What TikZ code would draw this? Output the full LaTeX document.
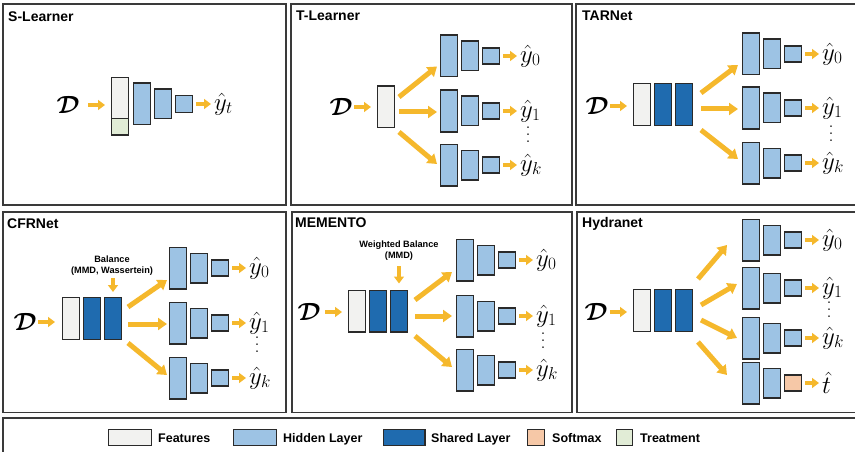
\documentclass[tikz,border=0pt]{standalone}
\usepackage{amsmath}
\usepackage{fontspec}
\setsansfont{Liberation Sans}
\usetikzlibrary{arrows.meta,calc}

\definecolor{featc}{HTML}{F2F2F0}
\definecolor{hidc}{HTML}{9DC3E4}
\definecolor{shrc}{HTML}{1F6BAF}
\definecolor{softc}{HTML}{F6C8A7}
\definecolor{treatc}{HTML}{E1ECD6}
\definecolor{arrc}{HTML}{F5B82C}
\definecolor{edgec}{HTML}{2A2A2A}
\definecolor{framec}{HTML}{3A3A3A}

\tikzset{
  panel/.style={draw=framec, line width=1.8pt},
  layer/.style={draw=edgec, line width=1.4pt, inner sep=0pt, minimum width=16.6pt},
  feat/.style={layer, fill=featc},
  hid/.style={layer, fill=hidc},
  shr/.style={layer, fill=shrc},
  soft/.style={layer, fill=softc},
  treat/.style={layer, fill=treatc},
  tall/.style={minimum height=41.6pt},
  mid/.style={minimum height=29.6pt},
  low/.style={minimum height=16pt},
  flow/.style={draw=arrc, line width=4pt, -{Triangle[length=7pt,width=10pt]}},
  fork/.style={draw=arrc, line width=5pt, -{Triangle[length=9pt,width=12pt]}},
  title/.style={font=\sffamily\bfseries\fontsize{14}{16}\selectfont, inner sep=0pt, anchor=base west},
  note/.style={font=\sffamily\bfseries\fontsize{9.2}{11}\selectfont, align=center, inner sep=0pt},
  sym/.style={font=\fontsize{25}{27}\selectfont, inner sep=0pt},
  est/.style={font=\fontsize{23}{25}\selectfont, inner sep=0pt},
  dots/.style={font=\fontsize{20}{7}\selectfont, align=center, inner sep=0pt},
  key/.style={font=\sffamily\bfseries\fontsize{12.5}{14}\selectfont, inner sep=0pt, anchor=base west},
  swatch/.style={layer, minimum height=15.6pt},
}

\newcommand\dataset{$\boldsymbol{\mathcal{D}}$}

% one output head: three stacked layers, an arrow and the estimate
% #1 prefix, #2 left x, #3 centre y, #4 estimate, #5 style of the last layer
\newcommand\headrow[5]{%
  \node[hid,tall,anchor=west] (#1a) at (#2,#3) {};
  \node[hid,mid,anchor=west] (#1b) at ([xshift=3pt]#1a.east) {};
  \node[#5,low,anchor=west] (#1c) at ([xshift=3pt]#1b.east) {};
  \node[est,anchor=west] (#1y) at ([xshift=20pt]#1c.east) {#4};
  \draw[flow] ([xshift=3pt]#1c.east) -- ($(#1y.west |- #1c.east)+(-3,0)$);
}

\begin{document}
\begin{tikzpicture}[x=1pt,y=-1pt]
\useasboundingbox (0,0) rectangle (855,452);
\clip (0,0) rectangle (855,452);

% frames
\draw[panel] (3,4) rectangle (286,205);
\draw[panel] (291,4) rectangle (572,205);
\draw[panel] (576,4) rectangle (862,205);
\draw[panel] (3,212) rectangle (286,412.5);
\draw[panel] (292,212) rectangle (572,412.5);
\draw[panel] (577,212) rectangle (862,412.5);
\draw[panel] (3,418) rectangle (862,466);

% ---------------- S-Learner
\node[title] (sTitle) at (8,22) {S-Learner};
\node[sym] (sD) at (68,105) {\dataset};
\node[feat,minimum height=40.6pt,anchor=north west] (sF) at (111,77) {};
\node[treat,minimum height=16.6pt,anchor=north] (sT) at ([yshift=1.4pt]sF.south) {};
\node[hid,tall,anchor=west] (sH1) at (133,104) {};
\node[hid,mid,anchor=west] (sH2) at ([xshift=3pt]sH1.east) {};
\node[hid,minimum height=16.6pt,anchor=west] (sH3) at ([xshift=3pt]sH2.east) {};
\node[est,anchor=west] (sY) at ([xshift=21pt]sH3.east) {$\hat{y}_t$};
\draw[flow] ([xshift=3pt]sH3.east) -- ($(sY.west |- sH3.east)+(-3,0)$);
\draw[flow] ($(sD.east -| sF.west)+(-23,0)$) -- ($(sD.east -| sF.west)+(-6,0)$);

% ---------------- T-Learner
\node[title] (tTitle) at (296,21) {T-Learner};
\node[sym] (tD) at (341,107) {\dataset};
\node[feat,tall,anchor=west] (tF) at (377,107) {};
\draw[flow] ($(tD.east -| tF.west)+(-23,0)$) -- ($(tD.east -| tF.west)+(-6,0)$);
\headrow{tA}{440}{56}{$\hat{y}_0$}{hid}
\headrow{tB}{440}{111}{$\hat{y}_1$}{hid}
\headrow{tC}{440}{165}{$\hat{y}_k$}{hid}
\node[dots] (tV) at (528,135) {.\\.\\.};
\draw[fork] ($(tF.east)+(4,-10)$) -- ($(tAa.west)+(-3,10.5)$);
\draw[fork] ($(tF.east)+(4,5)$) -- ($(tBa.west)+(-3,1)$);
\draw[fork] ($(tF.east)+(4,25)$) -- ($(tCa.west)+(-3,-1)$);

% ---------------- TARNet
\node[title] (rTitle) at (582,21) {TARNet};
\node[sym] (rD) at (597,106) {\dataset};
\node[feat,tall,anchor=west] (rF) at (633,104.5) {};
\node[shr,tall,anchor=west] (rS1) at ([xshift=3pt]rF.east) {};
\node[shr,tall,anchor=west] (rS2) at ([xshift=3pt]rS1.east) {};
\draw[flow] ($(rD.east -| rF.west)+(-23,0)$) -- ($(rD.east -| rF.west)+(-6,0)$);
\headrow{rA}{742}{54}{$\hat{y}_0$}{hid}
\headrow{rB}{742}{108}{$\hat{y}_1$}{hid}
\headrow{rC}{742}{163}{$\hat{y}_k$}{hid}
\node[dots] (rV) at (831,134) {.\\.\\.};
\draw[fork] ($(rS2.east)+(8,-11.5)$) -- ($(rAa.west)+(-4,11)$);
\draw[fork] ($(rS2.east)+(8,4.5)$) -- ($(rBa.west)+(-4,1)$);
\draw[fork] ($(rS2.east)+(8,25.5)$) -- ($(rCa.west)+(-4,-4)$);

% ---------------- CFRNet
\node[title] (cTitle) at (7,228) {CFRNet};
\node[sym] (cD) at (25,322) {\dataset};
\node[feat,tall,anchor=west] (cF) at (62,318.5) {};
\node[shr,tall,anchor=west] (cS1) at ([xshift=3pt]cF.east) {};
\node[shr,tall,anchor=west] (cS2) at ([xshift=3pt]cS1.east) {};
\draw[flow] ($(cD.east -| cF.west)+(-24,0)$) -- ($(cD.east -| cF.west)+(-7,0)$);
\node[note] (cBal) at (112,266) {Balance\\(MMD, Wassertein)};
\draw[flow] ($(cBal.south -| cS2.north)+(0,2)$) -- ($(cS2.north)+(0,-5)$);
\headrow{cA}{169}{268}{$\hat{y}_0$}{hid}
\headrow{cB}{169}{323}{$\hat{y}_1$}{hid}
\headrow{cC}{169}{378}{$\hat{y}_k$}{hid}
\node[dots] (cV) at (257,345) {.\\.\\.};
\draw[fork] ($(cS2.east)+(6,-11.5)$) -- ($(cAa.west)+(-2,12)$);
\draw[fork] ($(cS2.east)+(6,5.5)$) -- ($(cBa.west)+(-2,1)$);
\draw[fork] ($(cS2.east)+(6,24.5)$) -- ($(cCa.west)+(-2,-3)$);

% ---------------- MEMENTO
\node[title] (mTitle) at (295,227) {MEMENTO};
\node[sym] (mD) at (309,312) {\dataset};
\node[feat,tall,anchor=west] (mF) at (348,311) {};
\node[shr,tall,anchor=west] (mS1) at ([xshift=3pt]mF.east) {};
\node[shr,tall,anchor=west] (mS2) at ([xshift=3pt]mS1.east) {};
\draw[flow] ($(mD.east -| mF.west)+(-23,0)$) -- ($(mD.east -| mF.west)+(-6,0)$);
\node[note] (mBal) at (399,250.5) {Weighted Balance\\(MMD)};
\draw[flow] ($(mBal.south -| mS2.north)+(0,6)$) -- ($(mS2.north)+(0,-6)$);
\headrow{mA}{456}{260}{$\hat{y}_0$}{hid}
\headrow{mB}{456}{316}{$\hat{y}_1$}{hid}
\headrow{mC}{456}{370}{$\hat{y}_k$}{hid}
\node[dots] (mV) at (543,341) {.\\.\\.};
\draw[fork] ($(mS2.east)+(7,-11)$) -- ($(mAa.west)+(-4,12)$);
\draw[fork] ($(mS2.east)+(7,5)$) -- ($(mBa.west)+(-4,0)$);
\draw[fork] ($(mS2.east)+(7,25)$) -- ($(mCa.west)+(-4,-3)$);

% ---------------- Hydranet
\node[title] (hTitle) at (582,227) {Hydranet};
\node[sym] (hD) at (596,312) {\dataset};
\node[feat,tall,anchor=west] (hF) at (633,310.5) {};
\node[shr,tall,anchor=west] (hS1) at ([xshift=3pt]hF.east) {};
\node[shr,tall,anchor=west] (hS2) at ([xshift=3pt]hS1.east) {};
\draw[flow] ($(hD.east -| hF.west)+(-23,0)$) -- ($(hD.east -| hF.west)+(-6,0)$);
\headrow{hA}{742}{240}{$\hat{y}_0$}{hid}
\headrow{hB}{742}{288}{$\hat{y}_1$}{hid}
\headrow{hC}{742}{338}{$\hat{y}_k$}{hid}
\headrow{hE}{742}{383}{$\hat{t}$}{soft}
\node[dots] (hV) at (829,310) {.\\.\\.};
\draw[fork] ($(hS2.east)+(5,-31.5)$) -- ($(hAa.west)+(-15,5)$);
\draw[fork] ($(hS2.east)+(8,-5.5)$) -- ($(hBa.west)+(-5,-4)$);
\draw[fork] ($(hS2.east)+(8,9.5)$) -- ($(hCa.west)+(-5,0)$);
\draw[fork] ($(hS2.east)+(5,31.5)$) -- ($(hEa.west)+(-15,-8)$);

% ---------------- legend
\node[swatch,fill=featc,minimum width=42.6pt] (kF) at (130,437.5) {};
\node[key] (kFt) at (158,442) {Features};
\node[swatch,fill=hidc,minimum width=42.6pt] (kH) at (255,437.5) {};
\node[key] (kHt) at (283,442) {Hidden Layer};
\node[swatch,fill=shrc,minimum width=41.6pt] (kS) at (404,437.5) {};
\node[key] (kSt) at (431,442) {Shared Layer};
\node[swatch,fill=softc,minimum width=16.6pt] (kX) at (536,437.5) {};
\node[key] (kXt) at (552,442) {Softmax};
\node[swatch,fill=treatc,minimum width=15.6pt] (kT) at (624.5,437.5) {};
\node[key] (kTt) at (640,442) {Treatment};
\end{tikzpicture}
\end{document}
